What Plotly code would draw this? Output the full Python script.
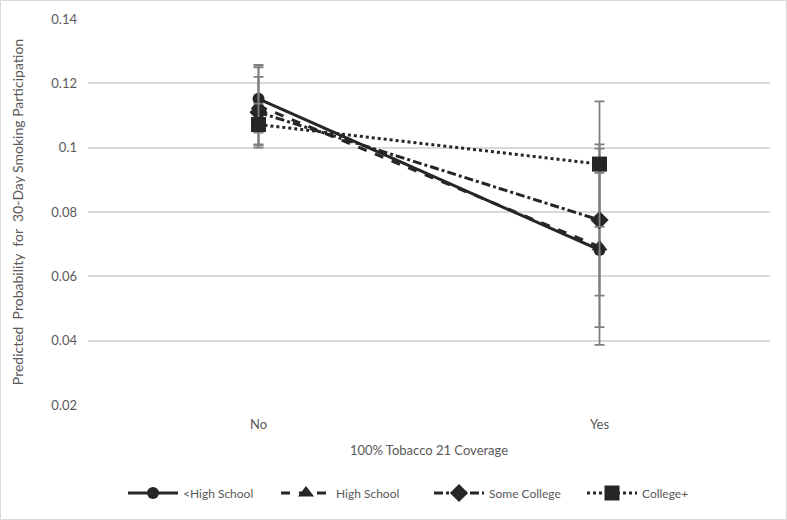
import plotly.graph_objects as go

# coverage categories on the x axis
categories = ["No", "Yes"]

# predicted probabilities per education group
series_names = ["&lt;High School", "High School", "Some College", "College+"]
lt_hs = [0.1152, 0.0682]
hs = [0.1130, 0.0692]
some_college = [0.1110, 0.0775]
college_plus = [0.1072, 0.0949]

# symmetric confidence half-widths
lt_hs_err = [0.0105, 0.0240]
hs_err = [0.0120, 0.0305]
some_college_err = [0.0110, 0.0235]
college_plus_err = [0.0065, 0.0195]

y_ticks = [0.02, 0.04, 0.06, 0.08, 0.1, 0.12, 0.14]

_INK = "#262626"
_GREY = "#595959"
_FONT = "Lato, Carlito, sans-serif"

styles = [
    ("solid", "circle", 12),
    ("dash", "triangle-up", 14),
    ("dashdot", "diamond", 14),
    ("dot", "square", 15),
]
values = [lt_hs, hs, some_college, college_plus]
errors = [lt_hs_err, hs_err, some_college_err, college_plus_err]

fig = go.Figure()
for name, vals, errs, (dash, symbol, size) in zip(series_names, values, errors, styles):
    fig.add_trace(go.Scatter(
        x=categories,
        y=vals,
        name=name,
        mode="lines+markers",
        line=dict(color=_INK, width=3, dash=dash),
        marker=dict(symbol=symbol, size=size, color=_INK),
        error_y=dict(type="data", array=errs, visible=True,
                     color="#7f7f7f", thickness=1.8, width=5),
    ))

# light frame round the whole chart
fig.add_shape(type="rect", xref="paper", yref="paper",
              x0=-87.5 / 682, x1=698.5 / 682, y0=-114.5 / 386, y1=1 + 18.5 / 386,
              line=dict(color="#d9d9d9", width=1), layer="below")

fig.update_layout(
    width=787,
    height=520,
    margin=dict(l=88, r=17, t=19, b=115),
    paper_bgcolor="white",
    plot_bgcolor="white",
    font=dict(family=_FONT, size=13, color=_GREY),
    showlegend=True,
    legend=dict(orientation="h", x=0.5, xanchor="center", y=-0.228, yanchor="middle",
                font=dict(size=12, color=_GREY), itemwidth=50,
                entrywidth=88, entrywidthmode="pixels"),
    xaxis=dict(
        type="category",
        range=[-0.5, 1.5],
        showgrid=False,
        showline=False,
        zeroline=False,
        ticks="",
        ticklabelstandoff=10,
        title=dict(text="100% Tobacco 21 Coverage", standoff=14,
                   font=dict(size=13, color=_GREY)),
    ),
    yaxis=dict(
        range=[0.02, 0.14],
        tickvals=y_ticks,
        ticktext=[f"{v:g}" for v in y_ticks],
        showgrid=True,
        gridcolor="#d9d9d9",
        gridwidth=1.5,
        zeroline=False,
        showline=False,
        ticklabelstandoff=10,
        title=dict(text="Predicted  Probability  for  30-Day Smoking Participation",
                   standoff=24, font=dict(size=14, color=_GREY)),
    ),
)

# drop the page's default body margin so the figure sits at the window origin
fig.write_html("out.html", config={"displayModeBar": False},
               post_script="document.body.style.margin='0';")
